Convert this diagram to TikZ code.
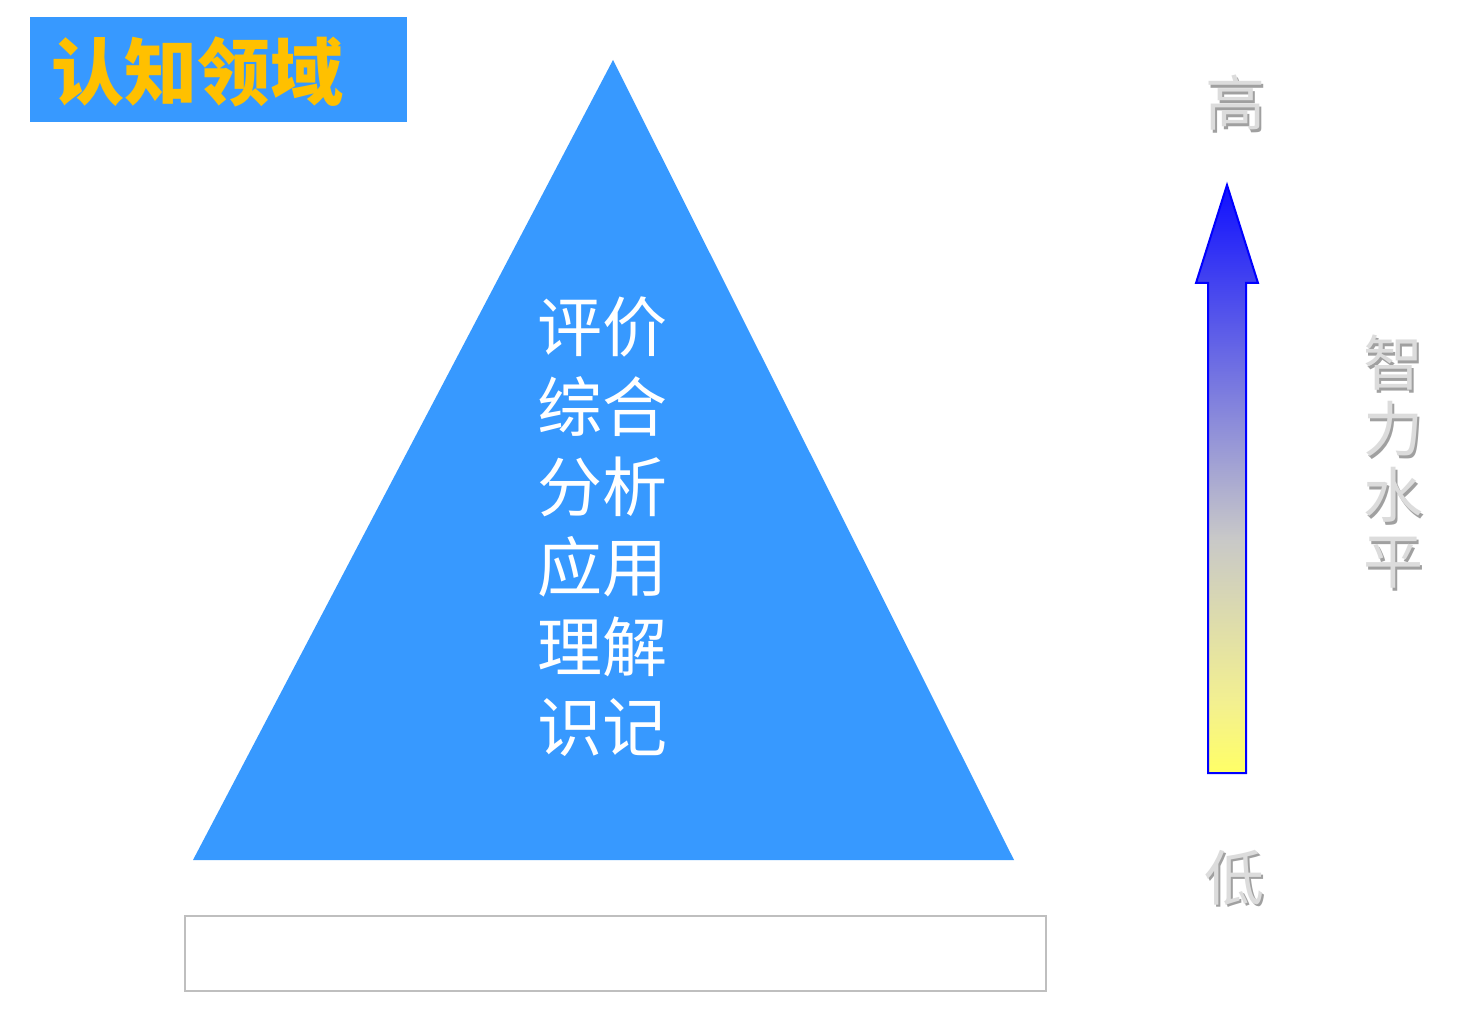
\documentclass[tikz,border=0pt]{standalone}
\usepackage{fontspec}
\newfontfamily\cjk{Noto Sans CJK SC}
\definecolor{triblue}{HTML}{3799FF}
\definecolor{titlegold}{HTML}{FFC000}
\definecolor{arrY}{HTML}{FFFF66}
\definecolor{arrY2}{HTML}{F3F090}
\definecolor{arrG}{HTML}{C8C8C8}
\definecolor{arrB}{HTML}{1010FF}
\definecolor{boxgray}{HTML}{BFBFBF}
\definecolor{embdark}{HTML}{A0A0A0}
\definecolor{emblight}{HTML}{DCDCDC}
\newcommand{\embch}[1]{\rlap{\kern2.5pt\raisebox{-2.5pt}{\textcolor{embdark}{#1}}}\textcolor{emblight}{#1}}
\pgfdeclareverticalshading{arrowshade}{100bp}{color(0bp)=(arrY); color(25bp)=(arrY); color(31bp)=(arrY2); color(45bp)=(arrG); color(75bp)=(arrB); color(100bp)=(arrB)}
\tikzset{
  levelstext/.style={text=white, align=center, inner sep=0pt, font=\cjk\fontsize{65}{80}\selectfont},
  embtext/.style={align=center, inner sep=0pt, font=\cjk\fontsize{60}{66}\selectfont},
}
\begin{document}
\begin{tikzpicture}[x=1pt,y=-1pt]
\useasboundingbox (0,0) rectangle (1462,1024);
\fill[white] (0,0) rectangle (1462,1024);
% title
\fill[triblue] (30,17) rectangle (407,122);
\node[text=titlegold, inner sep=0pt, font=\cjk\bfseries\fontsize{73}{73}\selectfont] (title) at (197,72) {认知领域};
% triangle
\fill[triblue] (613,60) -- (1014,860) -- (193,860) -- cycle;
\node[levelstext] (levels) at (602,527) {评价\\综合\\分析\\应用\\理解\\识记};
% bottom empty box
\draw[boxgray, line width=2pt] (185,916) rectangle (1046,991);
% arrow
\draw[blue, line width=2pt, shading=arrowshade] (1227,185) -- (1258,283) -- (1246,283) -- (1246,773) -- (1208,773) -- (1208,283) -- (1196,283) -- cycle;
% embossed labels
\node[embtext] (high) at (1235,104) {\embch{高}};
\node[embtext] (low) at (1234,879) {\embch{低}};
\node[embtext] (iq) at (1393,463) {\embch{智}\\\embch{力}\\\embch{水}\\\embch{平}};
\end{tikzpicture}
\end{document}
